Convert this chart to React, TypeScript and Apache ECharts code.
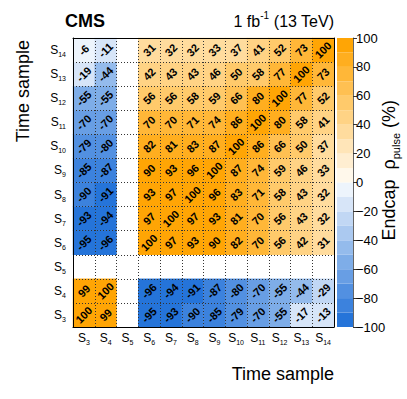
import React, { useEffect, useRef } from "react";
import * as echarts from "echarts";

const samples = ["3", "4", "5", "6", "7", "8", "9", "10", "11", "12", "13", "14"];
// rows: correlation of sample S_y (row) with S_x (columns S3..S14); null = no entry
const rowS3 = [100, 99, null, -95, -93, -90, -85, -79, -70, -55, -17, -13];
const rowS4 = [99, 100, null, -96, -94, -91, -87, -80, -70, -55, -44, -29];
const rowS5 = [null, null, null, null, null, null, null, null, null, null, null, null];
const rowS6 = [-95, -96, null, 100, 97, 93, 90, 82, 70, 56, 42, 31];
const rowS7 = [-93, -94, null, 97, 100, 97, 93, 81, 70, 56, 43, 32];
const rowS8 = [-90, -91, null, 93, 97, 100, 96, 83, 71, 58, 43, 32];
const rowS9 = [-85, -87, null, 90, 93, 96, 100, 87, 74, 59, 46, 33];
const rowS10 = [-79, -80, null, 82, 81, 83, 87, 100, 86, 66, 50, 37];
const rowS11 = [-70, -70, null, 70, 70, 71, 74, 86, 100, 80, 58, 41];
const rowS12 = [-55, -55, null, 56, 56, 58, 59, 66, 80, 100, 77, 52];
const rowS13 = [-19, -44, null, 42, 43, 43, 46, 50, 58, 77, 100, 73];
const rowS14 = [-6, -11, null, 31, 32, 32, 33, 37, 41, 52, 73, 100];
const rows = [rowS3, rowS4, rowS5, rowS6, rowS7, rowS8, rowS9, rowS10, rowS11, rowS12, rowS13, rowS14];

const colorbarTicks = [-100, -80, -60, -40, -20, 0, 20, 40, 60, 80, 100];
const bandEdges = [-100, -90, -80, -70, -60, -50, -40, -30, -20, -10, 0, 10, 20, 30, 40, 50, 60, 70, 80, 90, 100];

const ORANGE = [255, 163, 0];
const BLUE = [33, 113, 216];
function mix(end: number[], f: number) {
  const c = end.map((e) => Math.round(255 + (e - 255) * f));
  return `rgb(${c[0]},${c[1]},${c[2]})`;
}
function bandColor(lo: number) {
  // lo: lower edge of band
  if (lo >= 0) {
    const i = lo / 10;
    return mix(ORANGE, Math.min(1, (i + 0.8) / 10));
  }
  const i = -lo / 10 - 1;
  return mix(BLUE, Math.min(1, (i + 0.8) / 10));
}

const FONT = "Liberation Sans";

export default function App() {
  const ref = useRef<HTMLDivElement>(null);
  useEffect(() => {
    document.body.style.margin = "0";
    const chart = echarts.init(ref.current!, null, { renderer: "svg" });

    const data: any[] = [];
    rows.forEach((row, yi) => {
      row.forEach((v, xi) => {
        if (v !== null) data.push([xi, yi, v]);
      });
    });

    const bands: any[] = [];
    for (let k = 0; k < bandEdges.length - 1; k++) {
      bands.push([0, bandEdges[k], bandEdges[k + 1]]);
    }

    const pieces = bands.map((b, k) => {
      const p: any = { gte: b[1], color: bandColor(b[1]) };
      if (k === bands.length - 1) p.lte = b[2];
      else p.lt = b[2];
      return p;
    });

    const catAxisCommon = {
      type: "category",
      data: samples,
      axisTick: { show: false },
      z: 5,
    };
    const labelRich = {
      m: { fontFamily: FONT, fontSize: 12, color: "#000", lineHeight: 16 },
      s: { fontFamily: FONT, fontSize: 7, color: "#000", lineHeight: 8, verticalAlign: "bottom" },
    };
    const dotted = { color: "#333", width: 1, type: [1, 2] };

    chart.setOption({
      animation: false,
      grid: [
        { left: 73, top: 38, right: 73, bottom: 72 },
        { left: 337, top: 38, width: 16, bottom: 72 },
      ],
      xAxis: [
        {
          ...catAxisCommon,
          gridIndex: 0,
          position: "bottom",
          axisLine: { show: true, lineStyle: { color: "#000", width: 1 } },
          splitLine: { show: true, interval: 0, lineStyle: dotted },
          axisLabel: {
            interval: 0,
            margin: 3,
            formatter: (v: string) => `{m|S}{s|${v}}`,
            rich: labelRich,
          },
        },
        {
          ...catAxisCommon,
          gridIndex: 0,
          position: "top",
          axisLine: { show: true, lineStyle: { color: "#000", width: 1 } },
          axisLabel: { show: false },
        },
        {
          type: "category",
          data: ["c"],
          gridIndex: 1,
          show: false,
        },
      ],
      yAxis: [
        {
          ...catAxisCommon,
          gridIndex: 0,
          position: "left",
          axisLine: { show: true, lineStyle: { color: "#000", width: 1 } },
          splitLine: { show: true, interval: 0, lineStyle: dotted },
          axisLabel: {
            interval: 0,
            margin: 7,
            formatter: (v: string) => `{m|S}{s|${v}}`,
            rich: labelRich,
          },
        },
        {
          ...catAxisCommon,
          gridIndex: 0,
          position: "right",
          axisLine: { show: true, lineStyle: { color: "#000", width: 1 } },
          axisLabel: { show: false },
        },
        {
          type: "value",
          gridIndex: 1,
          position: "right",
          min: -100,
          max: 100,
          interval: 20,
          z: 5,
          axisLine: { show: true, lineStyle: { color: "#666", width: 1 } },
          axisTick: { show: true, length: 4, lineStyle: { color: "#333" } },
          splitLine: { show: false },
          axisLabel: {
            margin: 3,
            fontFamily: FONT,
            fontSize: 13,
            color: "#000",
            formatter: (v: number) => String(v).replace("-", "\u2212"),
          },
          data: colorbarTicks,
        },
      ],
      visualMap: {
        type: "piecewise",
        show: false,
        seriesIndex: 0,
        dimension: 2,
        pieces,
      },
      series: [
        {
          type: "heatmap",
          xAxisIndex: 0,
          yAxisIndex: 0,
          data,
          label: {
            show: true,
            rotate: 45,
            fontFamily: FONT,
            fontWeight: "bold",
            fontSize: 11,
            color: "#000",
            formatter: (p: any) => String(p.value[2]),
          },
          emphasis: { disabled: true },
        },
        {
          type: "custom",
          xAxisIndex: 2,
          yAxisIndex: 2,
          data: bands,
          encode: { x: 0, y: [1, 2] },
          renderItem: (params: any, api: any) => {
            const lo = api.value(1);
            const hi = api.value(2);
            const pTop = api.coord([0, hi]);
            const pBot = api.coord([0, lo]);
            const w = api.size([1, 0])[0];
            return {
              type: "rect",
              shape: { x: pTop[0] - w / 2, y: pTop[1], width: w, height: pBot[1] - pTop[1] },
              style: { fill: bandColor(lo) },
            };
          },
        },
      ],
      graphic: [
        {
          type: "text",
          x: 65,
          y: 21,
          style: {
            text: "CMS",
            font: `bold 18px "${FONT}"`,
            fill: "#000",
            textAlign: "left",
            textVerticalAlign: "middle",
          },
        },
        {
          type: "text",
          x: 334,
          y: 21,
          style: {
            text: "1 fb{sup|-1} (13 TeV)",
            font: `16px "${FONT}"`,
            fill: "#000",
            textAlign: "right",
            textVerticalAlign: "middle",
            rich: {
              sup: { fontFamily: FONT, fontSize: 10, lineHeight: 10, verticalAlign: "top", fill: "#000" },
            },
            lineHeight: 22,
          },
        },
        {
          type: "text",
          x: 334,
          y: 374,
          style: {
            text: "Time sample",
            font: `18px "${FONT}"`,
            fill: "#000",
            textAlign: "right",
            textVerticalAlign: "middle",
          },
        },
        {
          type: "text",
          x: 23,
          y: 40,
          rotation: Math.PI / 2,
          style: {
            text: "Time sample",
            font: `18px "${FONT}"`,
            fill: "#000",
            textAlign: "right",
            textVerticalAlign: "middle",
          },
        },
        {
          type: "text",
          x: 389,
          y: 100,
          rotation: Math.PI / 2,
          style: {
            text: "Endcap  \u03c1{sub|pulse} (%)",
            font: `18px "${FONT}"`,
            fill: "#000",
            textAlign: "right",
            textVerticalAlign: "middle",
            lineHeight: 24,
            rich: {
              sub: { fontFamily: FONT, fontSize: 11, lineHeight: 11, verticalAlign: "bottom", fill: "#000" },
            },
          },
        },
      ],
    });
    return () => chart.dispose();
  }, []);
  return <div ref={ref} style={{ width: 407, height: 399 }} />;
}
